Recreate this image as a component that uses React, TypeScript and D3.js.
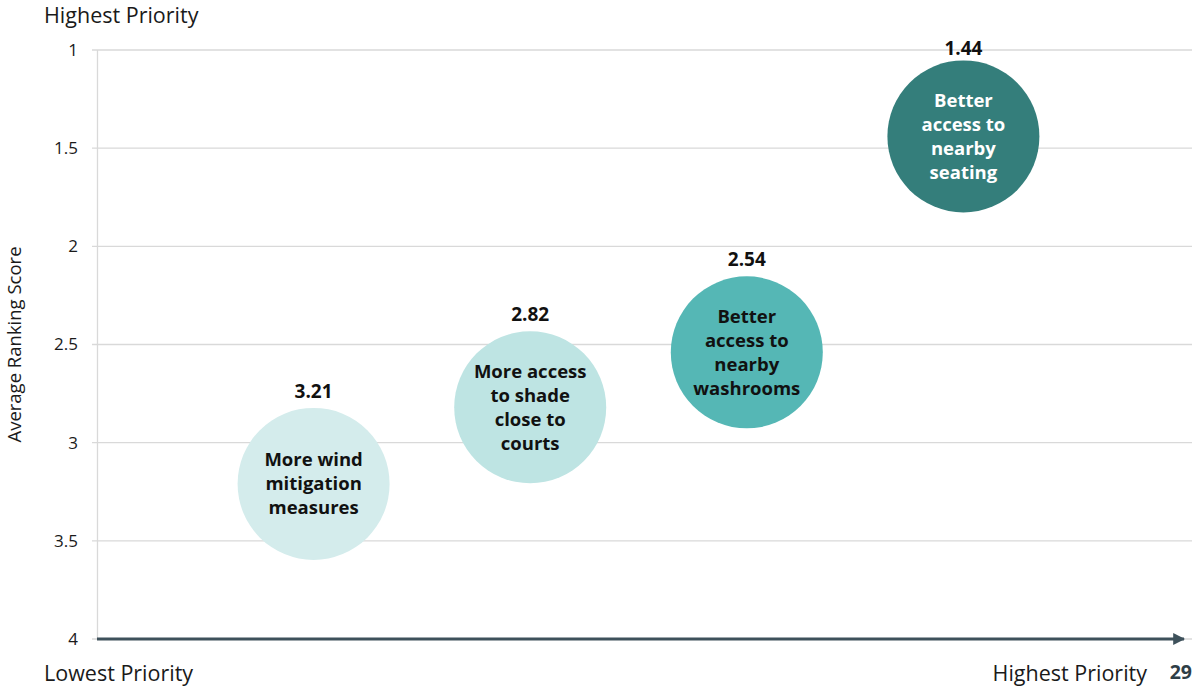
import React from "react";
import * as d3 from "d3";

const labels = [
  ["More wind", "mitigation", "measures"],
  ["More access", "to shade", "close to", "courts"],
  ["Better", "access to", "nearby", "washrooms"],
  ["Better", "access to", "nearby", "seating"],
];
const xPos = [1, 2, 3, 4];
const scores = [3.21, 2.82, 2.54, 1.44];
const fills = ["#D4ECEC", "#BEE4E3", "#55B7B5", "#347E7B"];
const textColors = ["#111111", "#111111", "#111111", "#FFFFFF"];
const yTicks = [1, 1.5, 2, 2.5, 3, 3.5, 4];

const W = 1196;
const H = 686;
const FONT = "'Open Sans', 'Noto Sans', sans-serif";

export default function App() {
  const x = d3.scaleLinear().domain([0, 5]).range([97, 1180]);
  const y = d3.scaleLinear().domain([1, 4]).range([50, 639]);
  const r = 76;
  const lineH = 24;

  return (
    <svg
      width={W}
      height={H}
      style={{ position: "absolute", left: 0, top: 0, background: "#fff" }}
      fontFamily={FONT}
    >
      <defs>
        <marker id="arr" viewBox="0 0 10 10" refX="9" refY="5" markerWidth="4" markerHeight="4" orient="auto" markerUnits="strokeWidth">
          <path d="M0,0 L10,5 L0,10 z" fill="#3E515B" />
        </marker>
      </defs>
      {yTicks.map((t) => (
        <g key={t}>
          <line x1={92} x2={1192} y1={y(t)} y2={y(t)} stroke="#D9D9D9" strokeWidth={1.3} />
          <text x={78} y={y(t)} dy="0.35em" textAnchor="end" fontSize={17} fill="#1a1a1a">
            {t}
          </text>
        </g>
      ))}
      <line x1={97.5} x2={97.5} y1={y(1)} y2={y(4)} stroke="#D9D9D9" strokeWidth={1.3} />
      <line x1={97} x2={1184} y1={y(4)} y2={y(4)} stroke="#3E515B" strokeWidth={3} markerEnd="url(#arr)" />

      {scores.map((s, i) => {
        const cx = x(xPos[i]);
        const cy = y(s);
        const lines = labels[i];
        const startY = cy - ((lines.length - 1) * lineH) / 2;
        return (
          <g key={i}>
            <circle cx={cx} cy={cy} r={r} fill={fills[i]} />
            <text x={cx} y={Math.max(cy - r - 10, 55)} textAnchor="middle" fontSize={19} fontWeight="bold" fill="#111">
              {s.toFixed(2)}
            </text>
            <text textAnchor="middle" fontSize={18.5} fontWeight="bold" fill={textColors[i]}>
              {lines.map((l, j) => (
                <tspan key={j} x={cx} y={startY + j * lineH} dy="0.35em">
                  {l}
                </tspan>
              ))}
            </text>
          </g>
        );
      })}

      <text transform={`translate(15,${(y(1) + y(4)) / 2}) rotate(-90)`} textAnchor="middle" fontSize={18.5} fill="#1a1a1a" dy="0.35em">
        Average Ranking Score
      </text>
      <text x={44} y={15} dy="0.35em" fontSize={21.5} fill="#1a1a1a">Highest Priority</text>
      <text x={44} y={673} dy="0.35em" fontSize={21.5} fill="#1a1a1a">Lowest Priority</text>
      <text x={1147} y={673} dy="0.35em" fontSize={21.5} fill="#1a1a1a" textAnchor="end">Highest Priority</text>
      <text x={1192} y={672} dy="0.35em" fontSize={19.5} fontWeight="bold" fill="#2E3E47" textAnchor="end">29</text>
    </svg>
  );
}
